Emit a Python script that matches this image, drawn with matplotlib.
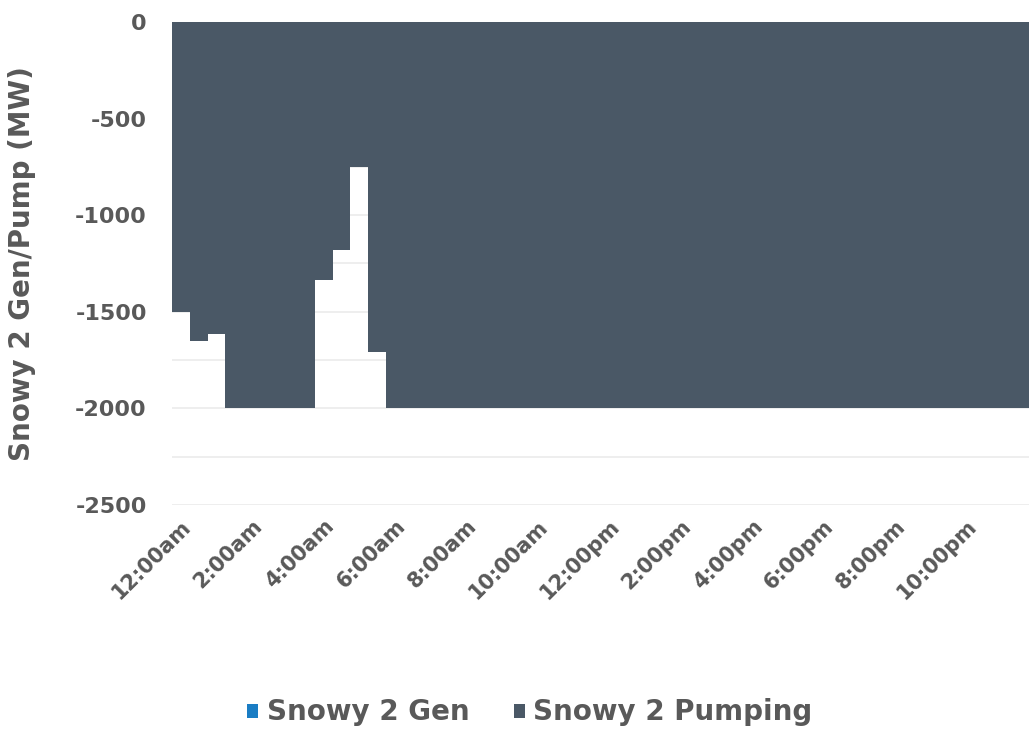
import matplotlib.pyplot as plt
import numpy as np

plt.rcParams['axes.unicode_minus'] = False

# half-hourly intervals over one day
times = ['12:00am', '12:30am', '1:00am', '1:30am', '2:00am', '2:30am', '3:00am', '3:30am',
         '4:00am', '4:30am', '5:00am', '5:30am', '6:00am', '6:30am', '7:00am', '7:30am',
         '8:00am', '8:30am', '9:00am', '9:30am', '10:00am', '10:30am', '11:00am', '11:30am',
         '12:00pm', '12:30pm', '1:00pm', '1:30pm', '2:00pm', '2:30pm', '3:00pm', '3:30pm',
         '4:00pm', '4:30pm', '5:00pm', '5:30pm', '6:00pm', '6:30pm', '7:00pm', '7:30pm',
         '8:00pm', '8:30pm', '9:00pm', '9:30pm', '10:00pm', '10:30pm', '11:00pm', '11:30pm']

snowy_gen = [0, 0, 0, 0, 0, 0, 0, 0, 0, 0, 0, 0,
             0, 0, 0, 0, 0, 0, 0, 0, 0, 0, 0, 0,
             0, 0, 0, 0, 0, 0, 0, 0, 0, 0, 0, 0,
             0, 0, 0, 0, 0, 0, 0, 0, 0, 0, 0, 0]

snowy_pumping = [-1500, -1650, -1615, -2000, -2000, -2000, -2000, -2000,
                 -1335, -1180, -750, -1710, -2000, -2000, -2000, -2000,
                 -2000, -2000, -2000, -2000, -2000, -2000, -2000, -2000,
                 -2000, -2000, -2000, -2000, -2000, -2000, -2000, -2000,
                 -2000, -2000, -2000, -2000, -2000, -2000, -2000, -2000,
                 -2000, -2000, -2000, -2000, -2000, -2000, -2000, -2000]

label_every = 4
gen_color = '#1a7dc4'
pump_color = '#4a5866'
text_color = '#595959'

fig = plt.figure(figsize=(10.29, 7.36), dpi=100)
ax = fig.add_axes([0.167, 0.314, 0.833, 0.656])

x = np.arange(len(times))
ax.bar(x, snowy_gen, width=1.0, color=gen_color, label='Snowy 2 Gen', zorder=3)
ax.bar(x, snowy_pumping, width=1.0, color=pump_color, label='Snowy 2 Pumping', zorder=3)

ax.set_xlim(-0.5, len(times) - 0.5)
ax.set_ylim(-2500, 0)
ax.set_yticks(np.arange(-2500, 1, 500))
ax.set_yticks(np.arange(-2500, 1, 250), minor=True)
ax.yaxis.grid(True, which='both', color='#ebebeb', linewidth=1.2, zorder=0)
ax.set_axisbelow(True)

for s in ax.spines.values():
    s.set_visible(False)
ax.tick_params(axis='both', which='both', length=0)
ax.tick_params(axis='y', labelsize=16, labelcolor=text_color, pad=18)
for t in ax.get_yticklabels():
    t.set_fontweight('bold')

ax.set_xticks(x[::label_every])
ax.set_xticklabels(times[::label_every], rotation=45, ha='right', rotation_mode='anchor',
                   fontsize=15, color=text_color, fontweight='bold')
ax.tick_params(axis='x', pad=8)

ax.set_ylabel('Snowy 2 Gen/Pump (MW)', fontsize=20, color=text_color, fontweight='bold')
ax.yaxis.set_label_coords(-0.158, 0.5)

fig.legend(loc='center', bbox_to_anchor=(0.515, 0.032), ncol=2, frameon=False,
           prop={'size': 20, 'weight': 'bold'}, labelcolor=text_color,
           handlelength=0.4, handleheight=0.4, handletextpad=0.3, columnspacing=1.6)

fig.savefig('out.png', dpi=100)
